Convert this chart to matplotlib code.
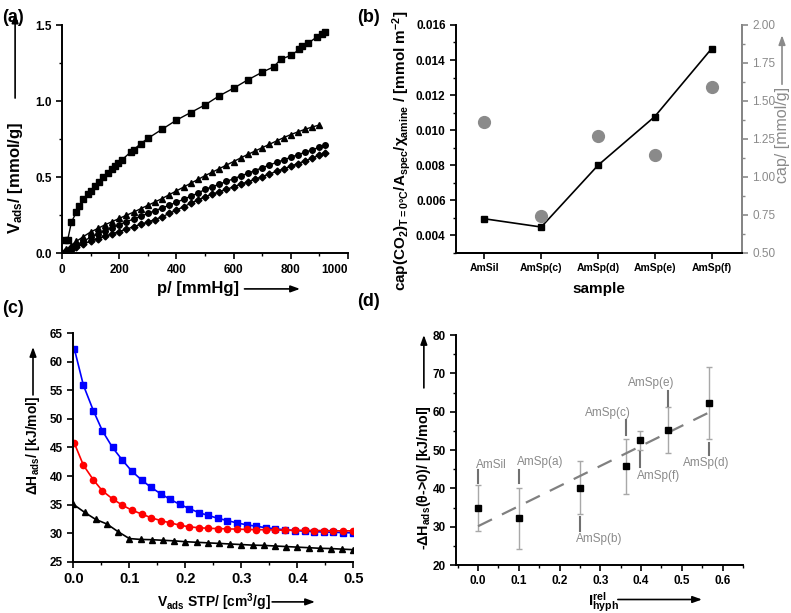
import numpy as np
import matplotlib
matplotlib.use("Agg")
import matplotlib.pyplot as plt
from matplotlib.ticker import MultipleLocator, FormatStrFormatter

plt.rcParams['font.family'] = ['Liberation Sans', 'DejaVu Sans']
plt.rcParams['font.weight'] = 'bold'
plt.rcParams['axes.labelweight'] = 'bold'
plt.rcParams['mathtext.fontset'] = 'custom'
plt.rcParams['mathtext.rm'] = 'Liberation Sans:bold'
plt.rcParams['mathtext.it'] = 'Liberation Sans:bold'
plt.rcParams['mathtext.bf'] = 'Liberation Sans:bold'
plt.rcParams['axes.linewidth'] = 1.4
for ax_name in ['xtick', 'ytick']:
    plt.rcParams[ax_name + '.major.width'] = 1.2
    plt.rcParams[ax_name + '.minor.width'] = 1.0
    plt.rcParams[ax_name + '.major.size'] = 4
    plt.rcParams[ax_name + '.minor.size'] = 2.5
    plt.rcParams[ax_name + '.labelsize'] = 8.5

# ---- (a) adsorption isotherms ----
p_sq = [10, 20, 33, 50, 60, 75, 90, 100, 115, 130, 145, 160, 175, 185, 195, 210,
        240, 250, 275, 300, 350, 400, 450, 500, 550, 600, 650, 700, 740, 765,
        800, 830, 840, 860, 890, 910, 920]
v_sq = [0.09, 0.09, 0.205, 0.27, 0.31, 0.36, 0.39, 0.41, 0.44, 0.47, 0.50, 0.53,
        0.555, 0.575, 0.595, 0.615, 0.665, 0.68, 0.72, 0.755, 0.815, 0.875, 0.925,
        0.975, 1.035, 1.085, 1.14, 1.19, 1.225, 1.275, 1.30, 1.34, 1.36, 1.38,
        1.42, 1.44, 1.455]

p_tri = [0, 15, 30, 50, 75, 100, 125, 150, 175, 200, 225, 250, 275, 300, 325, 350,
         375, 400, 425, 450, 475, 500, 525, 550, 575, 600, 625, 650, 675, 700, 725,
         750, 775, 800, 825, 850, 875, 900]
v_tri = [0.0, 0.025, 0.05, 0.078, 0.11, 0.14, 0.163, 0.187, 0.208, 0.229, 0.25,
         0.27, 0.293, 0.315, 0.337, 0.36, 0.385, 0.41, 0.435, 0.46, 0.485, 0.51,
         0.533, 0.556, 0.58, 0.603, 0.627, 0.65, 0.672, 0.694, 0.716, 0.738, 0.76,
         0.78, 0.798, 0.815, 0.83, 0.843]

p_circ = [0, 15, 30, 50, 75, 100, 125, 150, 175, 200, 225, 250, 275, 300, 325, 350,
          375, 400, 425, 450, 475, 500, 525, 550, 575, 600, 625, 650, 675, 700, 725,
          750, 775, 800, 825, 850, 875, 900, 920]
v_circ = [0.0, 0.012, 0.03, 0.055, 0.08, 0.105, 0.127, 0.148, 0.168, 0.188, 0.207,
          0.225, 0.243, 0.262, 0.28, 0.298, 0.316, 0.335, 0.355, 0.375, 0.395, 0.42,
          0.437, 0.454, 0.472, 0.49, 0.508, 0.526, 0.544, 0.562, 0.58, 0.597, 0.614,
          0.631, 0.648, 0.664, 0.68, 0.697, 0.711]

p_dia = [0, 15, 30, 50, 75, 100, 125, 150, 175, 200, 225, 250, 275, 300, 325, 350,
         375, 400, 425, 450, 475, 500, 525, 550, 575, 600, 625, 650, 675, 700, 725,
         750, 775, 800, 825, 850, 875, 900, 920]
v_dia = [0.0, 0.005, 0.02, 0.04, 0.06, 0.08, 0.097, 0.112, 0.128, 0.143, 0.158,
         0.175, 0.19, 0.205, 0.222, 0.24, 0.262, 0.284, 0.306, 0.328, 0.35, 0.372,
         0.388, 0.404, 0.42, 0.437, 0.454, 0.47, 0.487, 0.504, 0.521, 0.538, 0.555,
         0.572, 0.59, 0.607, 0.625, 0.645, 0.661]

# ---- (b) capacities per sample ----
samples_b = ["AmSil", "AmSp(c)", "AmSp(d)", "AmSp(e)", "AmSp(f)"]
cap_norm = [0.00495, 0.00448, 0.0080, 0.01078, 0.01465]
cap_mmol = [1.36, 0.745, 1.27, 1.145, 1.59]

# ---- (c) heat of adsorption vs loading ----
v_blue = [0.002, 0.018, 0.036, 0.052, 0.070, 0.0875, 0.104, 0.122, 0.139, 0.156,
          0.173, 0.19, 0.207, 0.224, 0.241, 0.258, 0.275, 0.292, 0.31, 0.327,
          0.344, 0.361, 0.378, 0.396, 0.413, 0.43, 0.447, 0.464, 0.482, 0.5]
h_blue = [62.2, 55.9, 51.4, 47.9, 45.0, 42.8, 40.9, 39.3, 38.0, 36.9, 35.9, 35.05,
          34.3, 33.6, 33.1, 32.6, 32.2, 31.8, 31.45, 31.2, 30.95, 30.75, 30.6, 30.45,
          30.35, 30.25, 30.2, 30.15, 30.1, 30.05]
v_red = [0.002, 0.018, 0.036, 0.052, 0.070, 0.0875, 0.104, 0.122, 0.139, 0.156,
         0.173, 0.19, 0.207, 0.224, 0.241, 0.258, 0.275, 0.292, 0.31, 0.327,
         0.344, 0.361, 0.378, 0.396, 0.413, 0.43, 0.447, 0.464, 0.482, 0.5]
h_red = [45.7, 41.9, 39.3, 37.4, 36.0, 34.9, 34.05, 33.35, 32.7, 32.2, 31.8, 31.4,
         31.1, 30.95, 30.85, 30.8, 30.75, 30.7, 30.65, 30.6, 30.6, 30.55, 30.5,
         30.5, 30.5, 30.45, 30.45, 30.4, 30.4, 30.4]
v_black = [0.0, 0.02, 0.04, 0.06, 0.08, 0.1, 0.12, 0.14, 0.16, 0.18, 0.2, 0.22,
           0.24, 0.26, 0.28, 0.3, 0.32, 0.34, 0.36, 0.38, 0.4, 0.42, 0.44, 0.46,
           0.48, 0.5]
h_black = [35.05, 33.65, 32.4, 31.6, 30.25, 29.05, 28.9, 28.85, 28.75, 28.65, 28.5,
           28.4, 28.3, 28.2, 28.1, 28.0, 27.9, 27.85, 27.75, 27.65, 27.55, 27.45,
           27.35, 27.3, 27.2, 27.1]

# ---- (d) -dH_ads vs I_hyph^rel ----
labels_d = ["AmSil", "AmSp(a)", "AmSp(b)", "AmSp(c)", "AmSp(f)", "AmSp(e)", "AmSp(d)"]
hyph_rel = [0.0, 0.1, 0.25, 0.362, 0.397, 0.466, 0.567]
dH0 = [35.0, 32.2, 40.2, 45.8, 52.5, 55.1, 62.2]
dH0_err = [6.0, 8.0, 7.0, 7.2, 2.5, 6.0, 9.4]

GRAY = '#8a8a8a'


def axis_arrow(ax, x0, y0, x1, y1, color='k'):
    ax.annotate('', xy=(x1, y1), xytext=(x0, y0), xycoords='axes fraction',
                textcoords='axes fraction', annotation_clip=False,
                arrowprops=dict(arrowstyle='-|>,head_length=0.55,head_width=0.2',
                                color=color, lw=1.2, shrinkA=0, shrinkB=0))


def clean(ax):
    ax.spines['top'].set_visible(False)
    ax.spines['right'].set_visible(False)
    ax.tick_params(which='both', direction='out', top=False, right=False)


fig = plt.figure(figsize=(7.91, 6.13), dpi=100)

# (a)
ax = fig.add_axes([0.0784, 0.5868, 0.3616, 0.3724])
clean(ax)
ms = 4
ax.plot(p_sq, v_sq, 'k-s', ms=ms, lw=1)
ax.plot(p_tri, v_tri, 'k-^', ms=ms, lw=1)
ax.plot(p_circ, v_circ, 'k-o', ms=ms, lw=1)
ax.plot(p_dia, v_dia, 'k-D', ms=ms - 0.5, lw=1)
ax.set_xlim(0, 1000)
ax.set_ylim(0, 1.5)
ax.set_xticks([0, 200, 400, 600, 800, 1000])
ax.xaxis.set_minor_locator(MultipleLocator(100))
ax.yaxis.set_major_locator(MultipleLocator(0.5))
ax.yaxis.set_minor_locator(MultipleLocator(0.25))
ax.yaxis.set_major_formatter(FormatStrFormatter('%.1f'))
ax.xaxis.get_major_ticks()[-1].label1.set_horizontalalignment('right')
ax.text(-0.164, 0.085, r'V$_{ads}$/ [mmol/g]', rotation=90, transform=ax.transAxes,
        ha='center', va='bottom', fontsize=12)
axis_arrow(ax, -0.164, 0.68, -0.164, 1.05)
ax.text(0.332, -0.156, 'p/ [mmHg]', transform=ax.transAxes, ha='left',
        va='center', fontsize=12)
axis_arrow(ax, 0.638, -0.156, 0.832, -0.156)

# (b)
axb = fig.add_axes([0.5765, 0.5873, 0.3612, 0.3720])
axb.spines['top'].set_visible(False)
xb = np.arange(1, len(samples_b) + 1)
axb.plot(xb, cap_norm, 'k-s', ms=5, lw=1.2)
axb.set_xlim(0.5, 5.53)
axb.set_ylim(0.003, 0.016)
axb.set_xticks(xb)
axb.set_xticklabels(samples_b, fontsize=7.5)
axb.yaxis.set_major_locator(MultipleLocator(0.002))
axb.yaxis.set_minor_locator(MultipleLocator(0.001))
axb.yaxis.set_major_formatter(FormatStrFormatter('%.3f'))
axb.tick_params(which='both', direction='out', top=False)
axb.set_xlabel('sample', fontsize=11, labelpad=6)
axb.text(-0.189, -0.165,
         r'cap(CO$_2$)$_{T=0°C}$/A$_{spec}$/$\chi_{amine}$ / [mmol m$^{-2}$]',
         rotation=90, transform=axb.transAxes, ha='center', va='bottom', fontsize=11)
ax2 = axb.twinx()
ax2.spines['top'].set_visible(False)
ax2.spines['right'].set_color(GRAY)
ax2.spines['left'].set_visible(False)
ax2.plot(xb, cap_mmol, 'o', color=GRAY, ms=8.5, ls='none')
ax2.set_ylim(0.5, 2.0)
ax2.yaxis.set_major_locator(MultipleLocator(0.25))
ax2.yaxis.set_minor_locator(MultipleLocator(0.125))
ax2.yaxis.set_major_formatter(FormatStrFormatter('%.2f'))
ax2.tick_params(which='both', direction='out', colors=GRAY, labelcolor=GRAY)
for lbl in ax2.get_yticklabels():
    lbl.set_fontweight('normal')
ax2.text(1.141, 0.307, 'cap/ [mmol/g]', rotation=90, transform=ax2.transAxes,
         ha='center', va='bottom', fontsize=11.5, color=GRAY, fontweight='normal')
axis_arrow(ax2, 1.141, 0.74, 1.141, 0.955, color=GRAY)

# (c)
axc = fig.add_axes([0.0927, 0.0837, 0.354, 0.3726])
clean(axc)
axc.plot(v_blue, h_blue, '-s', color='#0000ff', ms=4, lw=1.2)
axc.plot(v_red, h_red, '-o', color='#ff0000', ms=4.5, lw=1.2)
axc.plot(v_black, h_black, '-^', color='k', ms=4, lw=1.2)
axc.set_xlim(0, 0.5)
axc.set_ylim(25, 65)
axc.xaxis.set_major_locator(MultipleLocator(0.1))
axc.xaxis.set_minor_locator(MultipleLocator(0.05))
axc.yaxis.set_major_locator(MultipleLocator(5))
axc.tick_params(axis='x', labelsize=10.5)
axc.tick_params(axis='y', labelsize=8.5)
axc.xaxis.set_major_formatter(FormatStrFormatter('%.1f'))
axc.text(-0.144, 0.292, r'$\Delta$H$_{ads}$/ [kJ/mol]', rotation=90,
         transform=axc.transAxes, ha='center', va='bottom', fontsize=10)
axis_arrow(axc, -0.144, 0.73, -0.144, 0.94)
axc.text(0.299, -0.176, r'V$_{ads}$ STP/ [cm$^3$/g]', transform=axc.transAxes,
         ha='left', va='center', fontsize=10)
axis_arrow(axc, 0.71, -0.176, 0.863, -0.176)

# (d)
axd = fig.add_axes([0.5765, 0.0783, 0.3628, 0.3752])
clean(axd)
axd.errorbar(hyph_rel, dH0, yerr=dH0_err, fmt='s', color='k', ms=5,
             ecolor='#a8a8a8', elinewidth=1, capsize=2.5, capthick=1)
slope, icpt = np.polyfit(hyph_rel, dH0, 1)
xfit = np.array([min(hyph_rel), max(hyph_rel)])
axd.plot(xfit, slope * xfit + icpt, '--', color='#808080', lw=1.6, dashes=(7, 5))
axd.set_xlim(-0.054, 0.65)
axd.set_ylim(20, 80)
axd.xaxis.set_major_locator(MultipleLocator(0.1))
axd.xaxis.set_minor_locator(MultipleLocator(0.05))
axd.yaxis.set_major_locator(MultipleLocator(10))
axd.yaxis.set_minor_locator(MultipleLocator(5))
axd.xaxis.set_major_formatter(FormatStrFormatter('%.1f'))
# label placement: text x, text y, pointer line y0, y1
label_pos = [(-0.006, 46.0, 41.5, 44.8), (0.095, 47.0, 41.5, 44.7),
             (0.24, 26.7, 29.0, 32.5), (0.262, 59.6, 53.9, 57.8),
             (0.391, 43.2, 45.5, 49.5), (0.367, 67.6, 61.5, 65.5),
             (0.502, 46.5, 48.7, 51.8)]
for name, xv, (tx, ty, ly0, ly1) in zip(labels_d, hyph_rel, label_pos):
    axd.text(tx, ty, name, color=GRAY, fontsize=8.5, fontweight='normal',
             ha='left', va='center')
    axd.plot([xv, xv], [ly0, ly1], color='#707070', lw=1.5)
axd.text(-0.112, 0.065, r'-$\Delta$H$_{ads}$($\theta$->0)/ [kJ/mol]', rotation=90,
         transform=axd.transAxes, ha='center', va='bottom', fontsize=10.3)
axis_arrow(axd, -0.112, 0.77, -0.112, 1.0)
axd.text(0.46, -0.16, r'I$^{rel}_{hyph}$', transform=axd.transAxes, ha='left',
         va='center', fontsize=11)
axis_arrow(axd, 0.564, -0.15, 0.857, -0.15)

for lbl, (fx, fy) in zip(['(a)', '(b)', '(c)', '(d)'],
                         [(0.003, 0.985), (0.452, 0.985), (0.003, 0.511), (0.452, 0.522)]):
    fig.text(fx, fy, lbl, fontsize=13, ha='left', va='top')

fig.savefig('out.png', dpi=100)
